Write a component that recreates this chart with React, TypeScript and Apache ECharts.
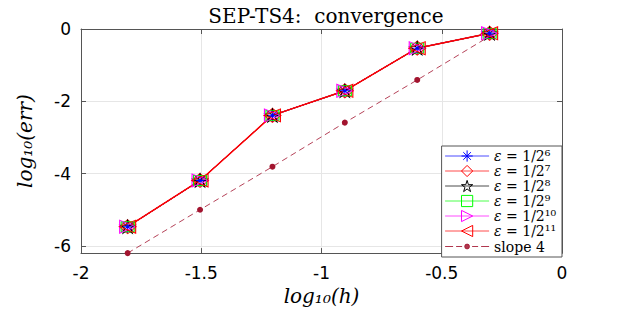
import React, { useEffect, useRef } from "react";
import * as echarts from "echarts";

// log10(h) for h = 1/64 ... 1/2
const logH = [-1.806, -1.505, -1.204, -0.903, -0.602, -0.301];
// log10(err) for each epsilon (curves overlap)
const errEps6 = [-5.47, -4.19, -2.39, -1.71, -0.53, -0.12];
const errEps7 = [-5.47, -4.19, -2.39, -1.71, -0.53, -0.12];
const errEps8 = [-5.47, -4.19, -2.39, -1.71, -0.53, -0.12];
const errEps9 = [-5.47, -4.19, -2.39, -1.71, -0.53, -0.12];
const errEps10 = [-5.47, -4.19, -2.39, -1.71, -0.53, -0.12];
const errEps11 = [-5.47, -4.19, -2.39, -1.71, -0.53, -0.12];
const slope4 = [-6.2, -5.0, -3.81, -2.59, -1.41, -0.2];

const seriesNames = ["ε = 1/2⁶", "ε = 1/2⁷", "ε = 1/2⁸", "ε = 1/2⁹", "ε = 1/2¹⁰", "ε = 1/2¹¹", "slope 4"];
const seriesColors = ["#0000ff", "#ff0000", "#000000", "#00ff00", "#ff00ff", "#ff0000", "#a2142f"];
const yTicks = [-6, -4, -2, 0];

const asterisk = "path://M0,5L10,5M5,0L5,10M1.6,1.6L8.4,8.4M8.4,1.6L1.6,8.4";
const pentagram =
  "path://M50,0L61.23,34.55L97.55,34.55L68.16,55.9L79.39,90.45L50,69.1L20.61,90.45L31.84,55.9L2.45,34.55L38.77,34.55Z";
const dashDotIcon =
  "path://M0,0M44,14M0,7L8,7M11,7L17,7M27,7L33,7M36,7L44,7M19.6,7A2.4,2.4,0,1,1,24.4,7A2.4,2.4,0,1,1,19.6,7Z";

const SERIF = "'DejaVu Serif', serif";
const SANS = "'DejaVu Sans', sans-serif";

export default function App() {
  const ref = useRef<HTMLDivElement>(null);
  useEffect(() => {
    if (!ref.current) return;
    document.body.style.margin = "0";
    const chart = echarts.init(ref.current, undefined, { renderer: "svg" });
    const pts = (ys: number[]) => logH.map((x, i) => [x, ys[i]]);
    const epsSeries = [
      { data: errEps6, symbol: asterisk, size: [15, 13], rotate: 0 },
      { data: errEps7, symbol: "diamond", size: [17, 14], rotate: 0 },
      { data: errEps8, symbol: pentagram, size: [15, 13], rotate: 0 },
      { data: errEps9, symbol: "rect", size: [13, 10], rotate: 0 },
      { data: errEps10, symbol: "triangle", size: [13, 16], rotate: -90 },
      { data: errEps11, symbol: "triangle", size: [13, 16], rotate: 90 },
    ].map((s, i) => ({
      type: "line",
      name: seriesNames[i],
      data: pts(s.data),
      symbol: s.symbol,
      symbolSize: s.size,
      symbolRotate: s.rotate,
      showSymbol: true,
      z: 3,
      lineStyle: { color: seriesColors[i], width: i === 5 ? 1.5 : 1 },
      itemStyle: { color: "transparent", borderColor: seriesColors[i], borderWidth: 1 },
    }));
    const legendData = seriesNames.map((name, i) =>
      i < 6
        ? {
            name,
            itemStyle: { color: "transparent", borderColor: seriesColors[i], borderWidth: 1 },
            lineStyle: { color: seriesColors[i], width: 1, opacity: 0.7 },
          }
        : {
            name,
            icon: dashDotIcon,
            itemStyle: { color: seriesColors[i], borderColor: seriesColors[i], borderWidth: 1, opacity: 0.85 },
          }
    );
    const option: any = {
      animation: false,
      backgroundColor: "#ffffff",
      title: {
        text: "SEP-TS4:  convergence",
        left: 321,
        textAlign: "center",
        top: 1,
        textStyle: { fontFamily: SERIF, fontSize: 20, fontWeight: "normal", color: "#000" },
      },
      grid: { left: 81, right: 59, top: 29, bottom: 54, containLabel: false },
      legend: {
        orient: "vertical",
        right: 59,
        top: 146,
        itemWidth: 44,
        itemHeight: 14,
        itemGap: 1,
        padding: [3, 6, 3, 3],
        backgroundColor: "#ffffff",
        borderColor: "#555555",
        borderWidth: 1,
        borderRadius: 0,
        data: legendData,
        formatter: (name: string) =>
          name.startsWith("ε") ? `{e|ε}{t|${name.slice(1)}}` : `{t|${name}}`,
        textStyle: {
          fontFamily: SERIF,
          fontSize: 14,
          color: "#000",
          rich: {
            e: { fontFamily: SERIF, fontSize: 14, fontStyle: "italic", color: "#000" },
            t: { fontFamily: SERIF, fontSize: 14, color: "#000" },
          },
        },
      },
      xAxis: [
        {
          type: "value",
          min: -2,
          max: 0,
          interval: 0.5,
          name: "log₁₀(h)",
          nameLocation: "middle",
          nameGap: 30,
          nameTextStyle: { fontFamily: SERIF, fontStyle: "italic", fontSize: 20, color: "#000" },
          axisLine: { show: true, onZero: false, lineStyle: { color: "#555", width: 1 } },
          axisTick: { show: true, inside: true, length: 5, lineStyle: { color: "#555" } },
          axisLabel: { fontFamily: SANS, fontSize: 17, color: "#000", margin: 11 },
          splitLine: { show: true, lineStyle: { color: "#e6e6e6", width: 1 } },
        },
        {
          type: "value",
          position: "top",
          min: -2,
          max: 0,
          interval: 0.5,
          axisLine: { show: true, onZero: false, lineStyle: { color: "#555", width: 1 } },
          axisTick: { show: true, inside: true, length: 5, lineStyle: { color: "#555" } },
          axisLabel: { show: false },
          splitLine: { show: false },
        },
      ],
      yAxis: [
        {
          type: "value",
          min: -6.2,
          max: 0,
          name: "log₁₀(err)",
          nameLocation: "middle",
          nameGap: 46,
          nameTextStyle: { fontFamily: SERIF, fontStyle: "italic", fontSize: 20, color: "#000" },
          axisLine: { show: true, onZero: false, lineStyle: { color: "#555", width: 1 } },
          axisTick: { show: true, inside: true, length: 5, customValues: yTicks, lineStyle: { color: "#555" } },
          axisLabel: { fontFamily: SANS, fontSize: 17, color: "#000", margin: 10, customValues: yTicks },
          splitLine: { show: true, lineStyle: { color: "#e6e6e6", width: 1 } },
        },
        {
          type: "value",
          position: "right",
          min: -6.2,
          max: 0,
          axisLine: { show: true, onZero: false, lineStyle: { color: "#555", width: 1 } },
          axisTick: { show: true, inside: true, length: 5, customValues: yTicks, lineStyle: { color: "#555" } },
          axisLabel: { show: false },
          splitLine: { show: false },
        },
      ],
      series: [
        ...epsSeries,
        {
          type: "line",
          name: seriesNames[6],
          data: pts(slope4),
          symbol: "circle",
          symbolSize: 6,
          z: 2,
          lineStyle: { color: seriesColors[6], width: 1, type: [6, 4], opacity: 0.8 },
          itemStyle: { color: seriesColors[6], borderWidth: 0 },
        },
      ],
    };
    chart.setOption(option);
    return () => chart.dispose();
  }, []);
  return <div ref={ref} style={{ width: 621, height: 311 }} />;
}
